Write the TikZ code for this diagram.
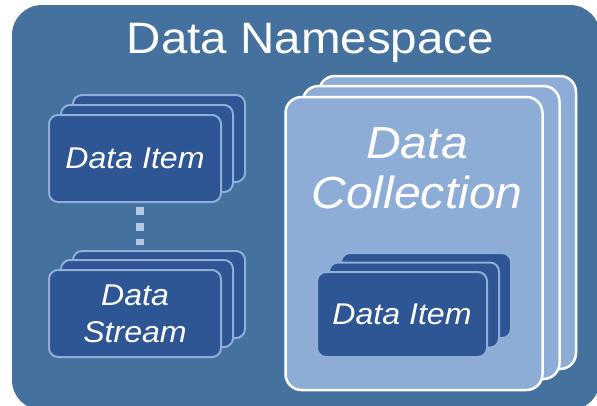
\documentclass[tikz,border=0pt]{standalone}
\usepackage{fontspec}
\setmainfont{Liberation Sans}
\definecolor{nsblue}{HTML}{44719D}
\definecolor{itemblue}{HTML}{2E5594}
\definecolor{itemedge}{HTML}{90AEDA}
\definecolor{collblue}{HTML}{8DADD6}
\definecolor{dotblue}{HTML}{B4C8E6}
% slightly wider setting of the lettering
\newcommand\widetxt[2][1.07]{\scalebox{#1}[1]{#2}}
\tikzset{
  nsbox/.style={fill=nsblue, rounded corners=30pt},
  itembox/.style={fill=itemblue, draw=itemedge, line width=2pt, rounded corners=9pt,
    minimum width=172pt, minimum height=87pt, inner sep=0pt},
  initem/.style={itembox, draw=itemedge!80!collblue, minimum width=170pt, minimum height=85pt},
  collbox/.style={fill=collblue, draw=white, line width=2.5pt, rounded corners=16pt,
    minimum width=257pt, minimum height=293pt, inner sep=0pt},
  itemtext/.style={text=white, font=\fontsize{30}{37}\selectfont\itshape, align=center},
  colltext/.style={text=white, font=\fontsize{45}{50}\selectfont\itshape, anchor=base},
  titletext/.style={text=white, font=\fontsize{44}{50}\selectfont, anchor=base},
  dotline/.style={draw=dotblue, line width=8pt, dash pattern=on 8pt off 8pt},
}
\begin{document}
\begin{tikzpicture}[x=1pt, y=-1pt]
  \useasboundingbox (0,0) rectangle (597,405);
  \clip (0,0) rectangle (597,405);
  % namespace panel
  \path[nsbox] (12,5) rectangle (600,410);
  \node[titletext] (title) at (310.5,53) {\widetxt[1.08]{Data Namespace}};

  % stack of data items
  \node[itembox] (itemB) at (159,138.5) {};
  \node[itembox] (itemM) at (147,148.5) {};
  \node[itembox, itemtext] (itemF) at (135,158.5) {\widetxt{Data Item}};

  % stack of data streams
  \node[itembox] (streamB) at (159,294.5) {};
  \node[itembox] (streamM) at (147,303.5) {};
  \node[itembox, itemtext] (streamF) at (135,313.5) {\widetxt{Data}\\\widetxt{Stream}};

  % dotted link between items and streams
  \draw[dotline] ([xshift=5pt,yshift=-4pt]itemF.south) -- ([xshift=-19pt,yshift=5pt]streamB.north);

  % stack of data collections
  \node[collbox] (collB) at (447.5,222.5) {};
  \node[collbox] (collM) at (431,232.5) {};
  \node[collbox] (collF) at (414,243.5) {};
  \node[colltext] (collT1) at (417,158) {\widetxt{Data}};
  \node[colltext] (collT2) at (417,208) {\widetxt{Collection}};

  % data items inside a collection
  \node[initem] (cItemB) at (426,295.5) {};
  \node[initem] (cItemM) at (414,305) {};
  \node[initem, itemtext] (cItemF) at (402,314.5) {\widetxt{Data Item}};
\end{tikzpicture}
\end{document}
